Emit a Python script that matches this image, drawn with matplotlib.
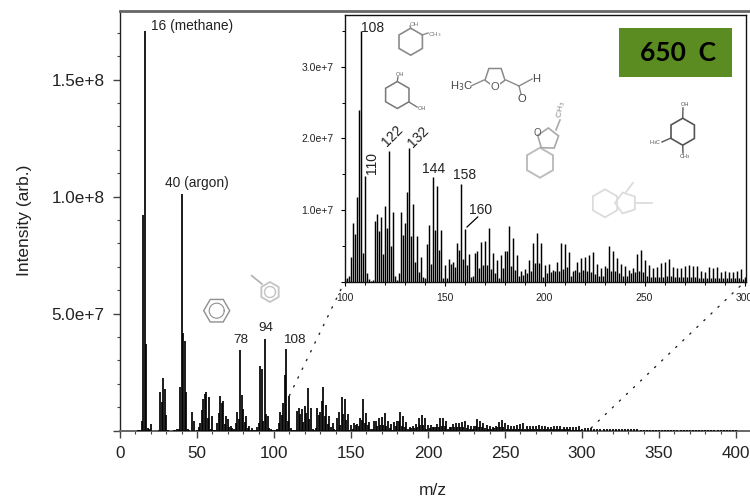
import numpy as np
import matplotlib
matplotlib.use("Agg")
import matplotlib.pyplot as plt
from matplotlib.lines import Line2D
from matplotlib.patches import Rectangle, ConnectionPatch, Polygon
from matplotlib.ticker import FuncFormatter, MultipleLocator

plt.rcParams['font.family'] = ['Liberation Sans', 'DejaVu Sans']

# intensities in units of 1e6
mz_low = [12,13,14,15,16,17,18,19,20,25,26,27,28,29,30,31,35,36,37,38,39,40,41,42,43,44,45,47,48,
          50,51,52,53,54,55,56,57,58,59,60,61,62,63,64,65,66,67,68,69,70,71,72,73,74,75,76,77,78,79,80,
          81,82,83,84,85,86,87,88,89,90,91,92,93,94,95,96,97,98,99,100]
int_low = [0.3,0.4,4,92,171,37,1.2,0.6,3,0.3,16.7,12.4,22.4,18,6.7,0.5,0.3,0.5,0.6,0.6,18.5,101,41.6,38.5,16.7,0.6,0.4,7.8,4.3,
           0.5,1.7,3.1,8.8,13.4,15.7,16.4,5.3,14.2,0.8,6.3,0.4,0.5,3.5,7.5,14.8,12,12.8,3,6.4,5,1.6,1.8,1,0.8,3.5,8.1,5,34.5,15.2,9.1,
           3.8,6.3,1,1.8,0.4,1.2,0.3,0.3,1.5,3.5,27.6,26.2,4,39.2,7.1,6.3,1.2,0.6,0.3,0.4]
mz_mid = list(range(101, 301))
int_mid = [0.5,0.8,3.5,8.2,6.7,11.9,24.0,35.0,4.0,14.7,
           1.2,0.4,0.15,0.25,8.5,9.5,7.1,9.1,3.9,10.6,
           7.5,18.2,5.0,9.8,0.9,0.3,1.2,9.7,6.6,8.2,
           12.6,18.6,6.4,10.8,2.8,6.4,1.4,3.5,0.7,0.5,
           5.3,8.0,2.5,14.6,7.2,13.4,4.5,7.3,0.5,2.3,
           0.6,3.2,2.5,2.8,2.1,5.4,4.4,13.6,3.2,7.4,
           2.4,3.9,0.7,0.9,4.0,4.3,1.9,5.6,2.4,5.7,
           2.3,7.5,1.8,4.0,1.2,3.0,0.5,3.7,2.0,4.3,
           4.3,7.8,2.2,6.1,1.7,3.7,0.9,1.6,1.0,1.8,
           1.3,3.0,1.6,5.5,2.6,6.8,2.6,5.4,0.7,2.3,
           1.2,2.5,1.4,1.7,1.5,2.8,1.6,5.5,1.8,5.3,
           2.1,4.2,0.9,1.5,1.7,2.8,1.4,3.4,1.7,3.5,
           1.6,3.7,1.4,4.2,1.1,2.5,0.9,1.9,0.9,2.2,
           2.0,5.0,1.5,4.3,1.5,3.4,1.2,2.5,0.9,2.2,
           0.9,1.7,1.2,1.9,1.4,3.9,1.6,4.4,1.4,3.1,
           0.9,2.3,0.7,1.9,0.7,2.1,0.7,2.6,0.7,2.8,
           0.9,3.2,0.9,2.1,0.7,1.9,0.7,2.0,0.7,2.2,
           0.7,2.3,0.7,2.2,0.7,2.2,0.6,1.5,0.6,1.4,
           0.6,2.1,0.6,2.0,0.6,2.1,0.6,1.4,0.6,1.6,
           0.6,1.4,0.5,1.4,0.5,1.6,0.5,1.8,0.4,0.7]
mz_high = list(range(302, 402, 2))
int_high = [1.1,1.0,1.0,0.9,0.9,0.8,0.8,0.9,0.8,0.8,
            0.7,0.7,0.7,0.7,0.6,0.6,0.6,0.6,0.5,0.5,
            0.5,0.5,0.5,0.4,0.4,0.4,0.4,0.4,0.4,0.3,
            0.3,0.3,0.3,0.3,0.3,0.3,0.2,0.2,0.2,0.2,
            0.2,0.2,0.2,0.15,0.15,0.15,0.1,0.1,0.1,0.1]

main_labels = ["78", "94", "108"]
inset_labels = ["108", "144", "158", "160"]
W, H = 750, 498
fig = plt.figure(figsize=(W/100, H/100), dpi=100)

def fx(x): return x / W
def fy(y): return 1 - y / H
def T(x, y, s, **k):
    k.setdefault('ha', 'center'); k.setdefault('va', 'center'); k.setdefault('color', '#222222')
    return fig.text(fx(x), fy(y), s, **k)

mz = np.array(mz_low + mz_mid + mz_high)
inten = np.array(int_low + int_mid + int_high) * 1e6

# main axes
ax = fig.add_axes([120/W, 1 - 430.7/H, 630/W, (430.7 - 11)/H])
ax.vlines(mz, 0, inten, color='black', lw=1.25, zorder=3)
ax.set_xlim(0, 630/1.54)
ax.set_ylim(0, 419.7/117*5e7)
ax.xaxis.set_major_locator(MultipleLocator(50))
ax.xaxis.set_minor_locator(MultipleLocator(10))
ax.yaxis.set_major_locator(MultipleLocator(5e7))
ax.yaxis.set_minor_locator(MultipleLocator(1e7))
ax.yaxis.set_major_formatter(FuncFormatter(lambda v, p: '' if v == 0 else f'{v:.1e}'.replace('e+0', 'e+')))
ax.tick_params(axis='both', which='major', length=5, width=1, color='#444444', labelsize=12.3, labelcolor='#222222', pad=6)
ax.tick_params(axis='both', which='minor', length=2.5, width=0.8, color='#444444')
ax.spines['right'].set_visible(False)
ax.spines['top'].set_color('#666666'); ax.spines['top'].set_linewidth(2)
ax.spines['bottom'].set_color('#666666'); ax.spines['bottom'].set_linewidth(1.4)
ax.spines['left'].set_color('#222222'); ax.spines['left'].set_linewidth(1)
T(433, 490, 'm/z', fontsize=12.5)
T(25, 220, 'Intensity (arb.)', fontsize=12.5, rotation=90)

# inset axes
axi = fig.add_axes([344.5/W, 1 - 282/H, 401/W, (282 - 15.3)/H])
axi.vlines(mz, 0, inten, color='black', lw=1.05, zorder=3)
axi.set_xlim(100, 300.5)
axi.set_ylim(0, 266.7/71.8*1e7)
axi.xaxis.set_major_locator(MultipleLocator(50))
axi.xaxis.set_minor_locator(MultipleLocator(10))
axi.yaxis.set_major_locator(MultipleLocator(1e7))
axi.yaxis.set_minor_locator(MultipleLocator(5e6))
axi.yaxis.set_major_formatter(FuncFormatter(lambda v, p: '' if v == 0 else f'{v:.1e}'.replace('e+0', 'e+')))
axi.tick_params(axis='both', which='major', length=3, width=0.8, labelsize=7.5, labelcolor='#222222')
axi.tick_params(axis='x', which='major', pad=5)
axi.tick_params(axis='both', which='minor', length=2, width=0.7)
axi.tick_params(axis='y', which='major', pad=5)
for s in axi.spines.values():
    s.set_linewidth(1); s.set_color('#111111')

# dotted connectors
for xa, ya, xb, yb in [(110, 1.5e7, 100, 0), (306, 1.2e6, 300, 0)]:
    fig.add_artist(ConnectionPatch((xa, ya), (xb, yb), 'data', 'data', axesA=ax, axesB=axi,
                                   linestyle=(0, (1, 6)), lw=1, color='#222222'))

# peak labels
T(192, 26, '16 (methane)', fontsize=9.9)
T(196.5, 183, '40 (argon)', fontsize=9.9)
T(240.7, 340, main_labels[0], fontsize=9.7)
T(265.5, 328, main_labels[1], fontsize=9.7)
T(294, 339.5, main_labels[2], fontsize=9.7)
T(373, 28.5, inset_labels[0], fontsize=10)
T(372.3, 163.5, '110', fontsize=10, rotation=90)
T(392.7, 136, '122', fontsize=10, rotation=45)
T(418.3, 137, '132', fontsize=10, rotation=45)
T(433.7, 169, inset_labels[1], fontsize=10)
T(465, 174.7, inset_labels[2], fontsize=10)
T(481, 210, inset_labels[3], fontsize=10)
fig.add_artist(Line2D([fx(467), fx(477.7)], [fy(227), fy(217)], color='black', lw=0.9))

# temperature badge
fig.add_artist(Rectangle((fx(619), fy(76.7)), 113/W, 48.7/H, transform=fig.transFigure,
                         facecolor='#5b8c22', edgecolor='none'))
T(678.5, 53, '650  C', fontsize=19, fontweight='bold', color='black', family='Lato')

# molecule sketches
def seg(x0, y0, x1, y1, c, lw=1.0):
    fig.add_artist(Line2D([fx(x0), fx(x1)], [fy(y0), fy(y1)], color=c, lw=lw))
def ngon(cx, cy, r, c, n=6, a0=0, lw=1.0):
    a = np.radians(a0) + np.arange(n) * 2*np.pi/n
    fig.add_artist(Polygon(np.c_[fx(cx + r*np.cos(a)), fy(cy + r*np.sin(a))], closed=True, fill=False,
                           edgecolor=c, lw=lw, transform=fig.transFigure))
def ring(cx, cy, r, c, lw=1.0):
    a = np.linspace(0, 2*np.pi, 40)
    fig.add_artist(Line2D(fx(cx + r*np.cos(a)), fy(cy + r*np.sin(a)), color=c, lw=lw))

# benzene
ngon(216.7, 310.7, 13, '#8f8f8f'); ring(216.7, 310.7, 7.5, '#8f8f8f', 0.8)
# toluene
ngon(270, 292, 10, '#c4c4c4', a0=30, lw=1.3); ring(270, 292, 5.5, '#c4c4c4', 1)
seg(251.7, 275.7, 262, 284, '#b0b0b0', 1.2)
# cresol
ngon(410.7, 41.7, 13.5, '#8a8a8a', a0=30, lw=1.2)
seg(410.7, 28, 410, 26, '#8a8a8a'); seg(422, 35, 428, 33, '#8a8a8a')
T(414, 24.5, 'OH', fontsize=4.5, color='#777777'); T(435, 35, 'CH$_3$', fontsize=4.5, color='#777777')
# resorcinol-like
ngon(397.3, 95, 13.5, '#777777', a0=30, lw=1.1)
T(399.5, 74.5, 'OH', fontsize=4, color='#555555'); T(422, 108.5, 'OH', fontsize=4, color='#555555')
seg(397.3, 81, 398, 77, '#777777'); seg(409, 102, 417, 107, '#777777')
# methylfurfural
ngon(495, 77, 10.5, '#8a8a8a', n=5, a0=90, lw=1.1)
T(495, 87.5, 'O', fontsize=8, color='#555555', bbox=dict(fc='white', ec='none', pad=0.3))
T(461.5, 86.5, 'H$_3$C', fontsize=8, color='#444444')
seg(471, 86, 484, 80, '#8a8a8a'); seg(506, 80, 519, 86, '#8a8a8a')
seg(519, 86, 532, 79, '#8a8a8a'); seg(519, 86, 521, 94, '#8a8a8a')
T(535.7, 78.7, 'H', fontsize=8, color='#444444'); T(521.7, 99.3, 'O', fontsize=8, color='#444444')
# methylbenzofuran
ngon(540, 162.7, 15, '#bdbdbd', a0=30, lw=1.4)
ngon(548, 139, 11, '#a8a8a8', n=5, a0=200, lw=1.2)
T(537, 132.5, 'O', fontsize=7, color='#555555')
seg(556, 130, 560, 120, '#aaaaaa', 1.2)
T(561, 109, 'CH$_3$', fontsize=6, rotation=80, color='#888888')
# dimethylphenol
ngon(682.7, 131.7, 13.5, '#555555', a0=30, lw=1.2)
T(685, 104.5, 'OH', fontsize=4, color='#444444'); T(655, 142.5, 'H$_3$C', fontsize=4, color='#555555')
T(685, 157, 'CH$_3$', fontsize=4, color='#555555')
seg(682.7, 118, 683, 108, '#555555'); seg(671, 138, 662, 142, '#555555'); seg(682.7, 145, 683, 153, '#555555')
# methylindane
ngon(605, 203.3, 14, '#dcdcdc', a0=30, lw=1.3)
ngon(626, 203, 11, '#dcdcdc', n=5, a0=180, lw=1.3)
seg(626, 192, 633, 182.7, '#dcdcdc', 1.3); seg(636, 203, 651.7, 203, '#dcdcdc', 1.3)

fig.savefig('out.png', dpi=100)
